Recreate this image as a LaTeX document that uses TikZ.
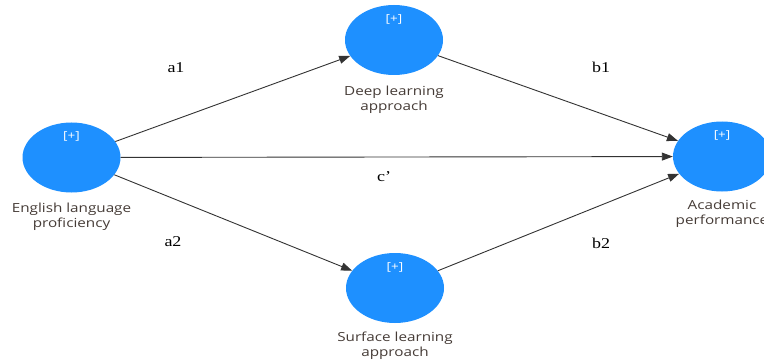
\documentclass[tikz,border=0pt]{standalone}
\usepackage{fontspec}
\setmainfont[FakeStretch=1.22]{Open Sans}
\newfontfamily\serifedge[FakeStretch=1.2]{Liberation Serif}
\usetikzlibrary{shapes.geometric,arrows.meta}
\definecolor{lvblue}{RGB}{30,144,255}
\definecolor{lbltext}{RGB}{70,60,55}
\tikzset{
  lv/.style={ellipse,fill=lvblue,draw=none,minimum width=98pt,minimum height=70pt,inner sep=0pt},
  plus/.style={text=white,font=\fontsize{11}{12}\selectfont},
  lvname/.style={text=lbltext,font=\fontsize{12.5}{15}\selectfont,align=center,inner sep=0pt},
  path/.style={draw=black!80,line width=0.9pt,-{Triangle[length=11pt,width=8pt]}},
  coef/.style={font=\serifedge\fontsize{15}{16}\selectfont,text=black}
}
\begin{document}
\begin{tikzpicture}[x=1pt,y=-1pt]
\useasboundingbox (0,0) rectangle (764,361);
\clip (0,0) rectangle (764,361);
\fill[white] (0,0) rectangle (764,361);
\node[lv] (eng) at (71.5,157.5) {};
\node[lv] (deep) at (394,40) {};
\node[lv] (surf) at (395,288) {};
\node[lv] (acad) at (722,156.5) {};
\node[plus] (p1) at (71.5,136) {[+]};
\node[plus] (p2) at (394,19) {[+]};
\node[plus] (p3) at (395,267) {[+]};
\node[plus] (p4) at (722,135) {[+]};
\node[lvname] (t1) at (71.5,217) {English language\\proficiency};
\node[lvname] (t2) at (394,100) {Deep learning\\approach};
\node[lvname] (t3) at (395,346) {Surface learning\\approach};
\node[lvname] (t4) at (722,214) {Academic\\performance};
\draw[path] (eng) -- (deep);
\draw[path] (eng) -- (acad);
\draw[path] (eng) -- (surf);
\draw[path] (deep) -- (acad);
\draw[path] (surf) -- (acad);
\node[coef] (a1) at (176,68) {a1};
\node[coef] (b1) at (601,67) {b1};
\node[coef] (c) at (384,177) {c’};
\node[coef] (a2) at (173,242) {a2};
\node[coef] (b2) at (601,243) {b2};
\end{tikzpicture}
\end{document}
